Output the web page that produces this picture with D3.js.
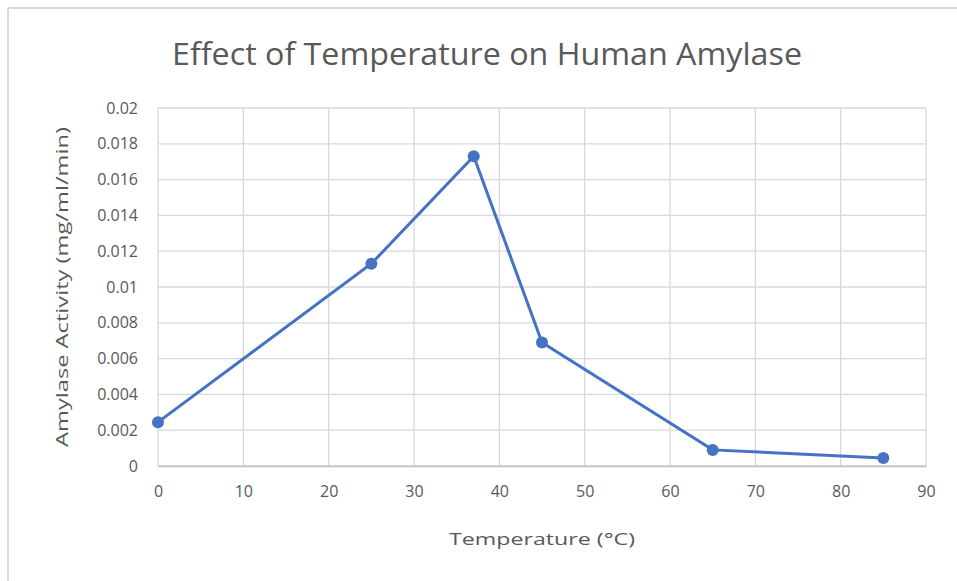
<!DOCTYPE html>
<html>
<head>
<meta charset="utf-8">
<script src="https://cdn.jsdelivr.net/npm/d3@7"></script>
<style>
  body { margin: 0; background: #fff; }
  text { font-family: "Open Sans", "Noto Sans", sans-serif; fill: #595959; }
</style>
</head>
<body>
<div id="chart"></div>
<script>
// data
var temps = [0, 25, 37, 45, 65, 85];
var activity = [0.00245, 0.0113, 0.0173, 0.0069, 0.0009, 0.00045];
var xTicks = [0, 10, 20, 30, 40, 50, 60, 70, 80, 90];
var yTicks = [0, 0.002, 0.004, 0.006, 0.008, 0.01, 0.012, 0.014, 0.016, 0.018, 0.02];

var svgWidth = 957;
var svgHeight = 581;

var margin = {top: 108, right: 31, bottom: 115, left: 158};
var width = svgWidth - margin.left - margin.right;
var height = svgHeight - margin.top - margin.bottom;

var svg = d3.select("#chart")
    .append("svg")
    .attr("width", svgWidth)
    .attr("height", svgHeight);

// light frame on top and left
svg.append("line").attr("x1", 8).attr("x2", svgWidth).attr("y1", 8).attr("y2", 8)
    .attr("stroke", "#d9d9d9").attr("stroke-width", 2);
svg.append("line").attr("x1", 8).attr("x2", 8).attr("y1", 8).attr("y2", svgHeight)
    .attr("stroke", "#d9d9d9").attr("stroke-width", 2);

var chartGroup = svg.append("g")
    .attr("transform", `translate(${margin.left}, ${margin.top})`);

var xScale = d3.scaleLinear().domain([0, 90]).range([0, width]);
var yScale = d3.scaleLinear().domain([0, 0.02]).range([height, 0]);

// gridlines
chartGroup.selectAll(".hgrid")
    .data(yTicks)
    .enter()
    .append("line")
    .attr("x1", 0).attr("x2", width)
    .attr("y1", d => yScale(d)).attr("y2", d => yScale(d))
    .attr("stroke", "#d9d9d9").attr("stroke-width", 1.3);

chartGroup.selectAll(".vgrid")
    .data(xTicks)
    .enter()
    .append("line")
    .attr("y1", 0).attr("y2", height)
    .attr("x1", d => xScale(d)).attr("x2", d => xScale(d))
    .attr("stroke", "#d9d9d9").attr("stroke-width", 1.3);

// axes
var bottomAxis = d3.axisBottom(xScale).tickValues(xTicks).tickSize(0).tickPadding(20);
var leftAxis = d3.axisLeft(yScale).tickValues(yTicks).tickSize(0).tickPadding(20)
    .tickFormat(d => d === 0 ? "0" : String(+d.toFixed(3)));

var xAxisG = chartGroup.append("g")
    .attr("transform", `translate(0, ${height})`)
    .call(bottomAxis);
xAxisG.select(".domain").attr("stroke", "#bfbfbf").attr("stroke-width", 1.5);
xAxisG.selectAll("text").attr("font-size", "16px").style("fill", "#595959");

var yAxisG = chartGroup.append("g").call(leftAxis);
yAxisG.select(".domain").remove();
yAxisG.selectAll("text").attr("font-size", "16px").style("fill", "#595959");

// line + markers
var line = d3.line()
    .x((d, i) => xScale(temps[i]))
    .y(d => yScale(d));

chartGroup.append("path")
    .datum(activity)
    .attr("d", line)
    .attr("fill", "none")
    .attr("stroke", "#4472c4")
    .attr("stroke-width", 3);

chartGroup.selectAll("circle")
    .data(activity)
    .enter()
    .append("circle")
    .attr("cx", (d, i) => xScale(temps[i]))
    .attr("cy", d => yScale(d))
    .attr("r", 6)
    .attr("fill", "#4472c4");

// titles
svg.append("text")
    .attr("x", 487)
    .attr("y", 65)
    .attr("text-anchor", "middle")
    .attr("font-size", "31px")
    .attr("textLength", 630)
    .attr("lengthAdjust", "spacingAndGlyphs")
    .text("Effect of Temperature on Human Amylase");

svg.append("text")
    .attr("x", 542)
    .attr("y", 545)
    .attr("text-anchor", "middle")
    .attr("font-size", "17px")
    .attr("textLength", 186)
    .attr("lengthAdjust", "spacingAndGlyphs")
    .text("Temperature (°C)");

svg.append("text")
    .attr("transform", "translate(68, 287) rotate(-90)")
    .attr("text-anchor", "middle")
    .attr("font-size", "17px")
    .attr("textLength", 320)
    .attr("lengthAdjust", "spacingAndGlyphs")
    .text("Amylase Activity (mg/ml/min)");
</script>
</body>
</html>
